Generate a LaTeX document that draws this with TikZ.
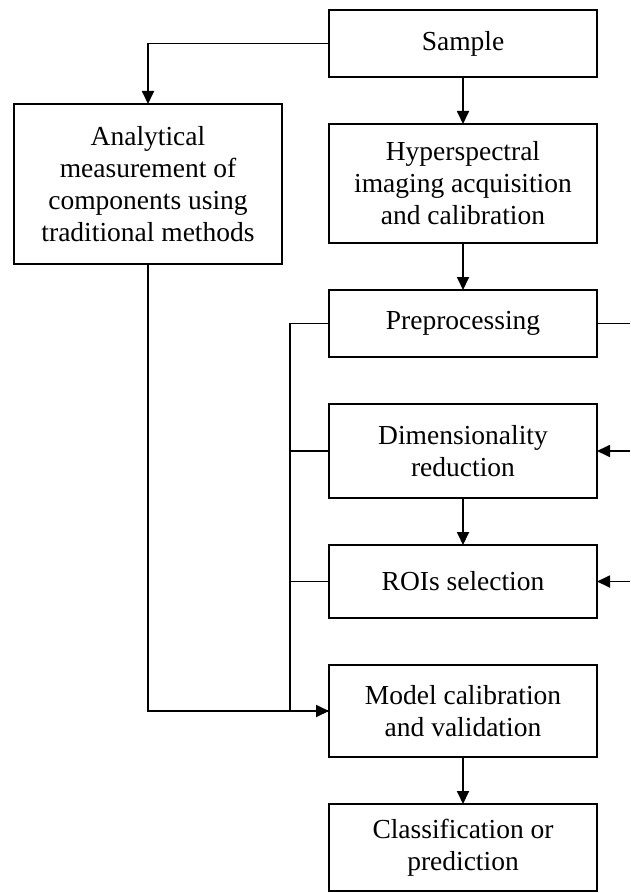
\documentclass[tikz,border=0pt]{standalone}
\usepackage{fontspec}
\setmainfont{Liberation Serif}
\usetikzlibrary{arrows.meta, positioning, calc}

\begin{document}
\begin{tikzpicture}[
    node distance=47pt and 47pt,
    box/.style={draw, line width=1.8pt, outer sep=0pt, minimum width=268pt, inner sep=2pt, align=center, font=\fontsize{27.5pt}{32pt}\selectfont},
    arr/.style={-{Triangle[length=13pt, width=12pt]}, line width=1.8pt},
    ln/.style={line width=1.8pt},
]
\useasboundingbox (0,0) rectangle (630pt,-893pt);

% main column
\node[box, minimum height=67pt, anchor=north west] (sample) at (329pt,-10pt) {Sample};
\node[box, minimum height=119pt, below=of sample] (hsi) {Hyperspectral\\imaging acquisition\\and calibration};
\node[box, minimum height=67pt, below=of hsi] (pre) {Preprocessing};
\node[box, minimum height=94pt, below=of pre] (dim) {Dimensionality\\reduction};
\node[box, minimum height=73pt, below=of dim] (rois) {ROIs selection};
\node[box, minimum height=92pt, below=of rois] (model) {Model calibration\\and validation};
\node[box, minimum height=87pt, below=of model] (cls) {Classification or\\prediction};

% reference analysis
\node[box, minimum height=160pt, anchor=north] (meas) at (148pt,-104pt) {Analytical\\measurement of\\components using\\traditional methods};

\draw[arr] (sample) -- (hsi);
\draw[arr] (hsi) -- (pre);
\draw[arr] (dim) -- (rois);
\draw[arr] (model) -- (cls);
\draw[arr] (sample.west) -| (meas.north);
\draw[arr] (meas.south) |- (model.west);

% left bus
\draw[ln] (pre.west) -- ++(-39pt,0) coordinate (bus) |- (model.west);
\draw[ln] (dim.west) -- (dim.west -| bus);
\draw[ln] (rois.west) -- (rois.west -| bus);

% right side
\coordinate (edge) at (630pt,0);
\draw[ln] (pre.east) -- (pre.east -| edge);
\draw[arr] (dim.east -| edge) -- (dim.east);
\draw[arr] (rois.east -| edge) -- (rois.east);

\end{tikzpicture}
\end{document}
